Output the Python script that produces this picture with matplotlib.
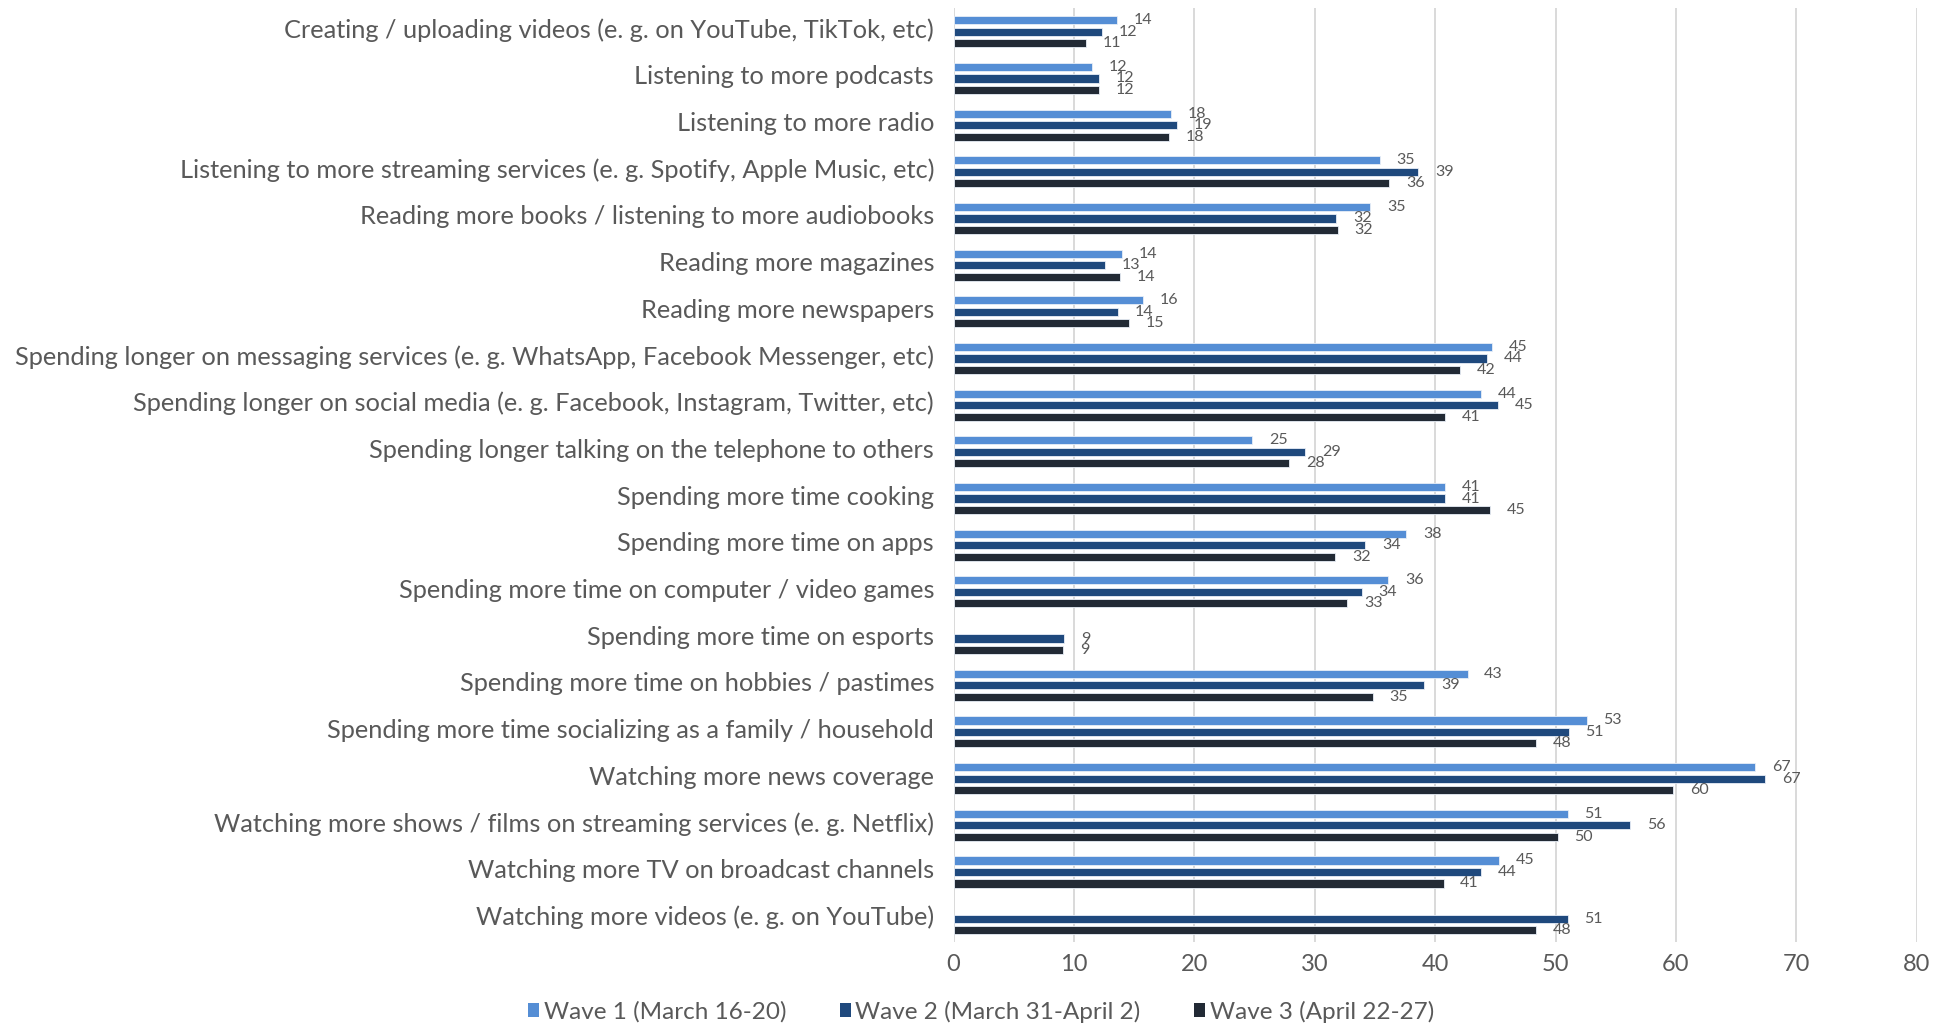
import numpy as np
import matplotlib.pyplot as plt
import matplotlib.transforms as mtransforms
from matplotlib.patches import Patch

# ==================================================
# Data: share of respondents doing more of each activity (%)
# ==================================================
activities = [
    'Creating / uploading videos (e. g. on YouTube, TikTok, etc)',
    'Listening to more podcasts',
    'Listening to more radio',
    'Listening to more streaming services (e. g. Spotify, Apple Music, etc)',
    'Reading more books / listening to more audiobooks',
    'Reading more magazines',
    'Reading more newspapers',
    'Spending longer on messaging services (e. g. WhatsApp, Facebook Messenger, etc)',
    'Spending longer on social media (e. g. Facebook, Instagram, Twitter, etc)',
    'Spending longer talking on the telephone to others',
    'Spending more time cooking',
    'Spending more time on apps',
    'Spending more time on computer / video games',
    'Spending more time on esports',
    'Spending more time on hobbies / pastimes',
    'Spending more time socializing as a family / household',
    'Watching more news coverage',
    'Watching more shows / films on streaming services (e. g. Netflix)',
    'Watching more TV on broadcast channels',
    'Watching more videos (e. g. on YouTube)',
]

wave1 = [13.6, 11.5, 18.1, 35.4, 34.6, 14.0, 15.7, 44.7, 43.8, 24.8,
         40.8, 37.6, 36.1, np.nan, 42.7, 52.6, 66.6, 51.0, 45.3, np.nan]
wave2 = [12.3, 12.1, 18.6, 38.6, 31.8, 12.6, 13.7, 44.3, 45.2, 29.2,
         40.8, 34.2, 33.9, 9.2, 39.1, 51.1, 67.4, 56.2, 43.8, 51.0]
wave3 = [11.0, 12.1, 17.9, 36.2, 31.9, 13.8, 14.6, 42.1, 40.8, 27.9,
         44.6, 31.7, 32.7, 9.1, 34.8, 48.4, 59.8, 50.2, 40.7, 48.4]

wave_names = ['Wave 1 (March 16-20)', 'Wave 2 (March 31-April 2)', 'Wave 3 (April 22-27)']
wave_colors = ['#558ed5', '#1f497d', '#222a35']

# ==================================================
# Plot
# ==================================================
plt.rcParams['font.family'] = ['Lato', 'DejaVu Sans']
text_grey = '#595959'

fig = plt.figure(figsize=(19.52, 10.26), dpi=100)
ax = fig.add_axes([0.4885, 0.0819, 0.4934, 0.9099])

y = np.arange(len(activities))
step = 0.246
height = 0.175

for i, (vals, name, col) in enumerate(zip([wave1, wave2, wave3], wave_names, wave_colors)):
    pos = y + (i - 1) * step
    ax.barh(pos, vals, height=height, color=col, edgecolor='#e8eef7',
            linewidth=0.6, label=name, zorder=3)
    for p, v in zip(pos, vals):
        if np.isnan(v):
            continue
        ax.annotate(f'{v:.0f}', xy=(v, p), xytext=(12, 0), textcoords='offset points',
                    ha='left', va='center', fontsize=11.5, color=text_grey)

ax.set_xlim(0, 80)
ax.set_ylim(len(activities) - 0.5, -0.5)
ax.set_xticks(range(0, 81, 10))
ax.set_yticks(y)
ax.set_yticklabels(activities, fontsize=18.3, color=text_grey)
ax.tick_params(axis='x', labelsize=17, labelcolor=text_grey, length=0, pad=9)
ax.tick_params(axis='y', length=0, pad=14)
ax.grid(axis='x', color='#d9d9d9', linewidth=1.4, zorder=0)
for s in ax.spines.values():
    s.set_visible(False)

# category labels sit a touch above the group centre
shift = mtransforms.ScaledTranslation(0, 2.5 / 72, fig.dpi_scale_trans)
for lbl in ax.get_yticklabels():
    lbl.set_transform(lbl.get_transform() + shift)

handles = [Patch(facecolor=c, label=n) for c, n in zip(wave_colors, wave_names)]
fig.legend(handles=handles, loc='center', bbox_to_anchor=(0.5026, 0.014), ncol=3,
           frameon=False, fontsize=17.5, labelcolor=text_grey, handlelength=0.45,
           handleheight=0.45, handletextpad=0.2, columnspacing=2.2)

plt.savefig('out.png', dpi=100)
